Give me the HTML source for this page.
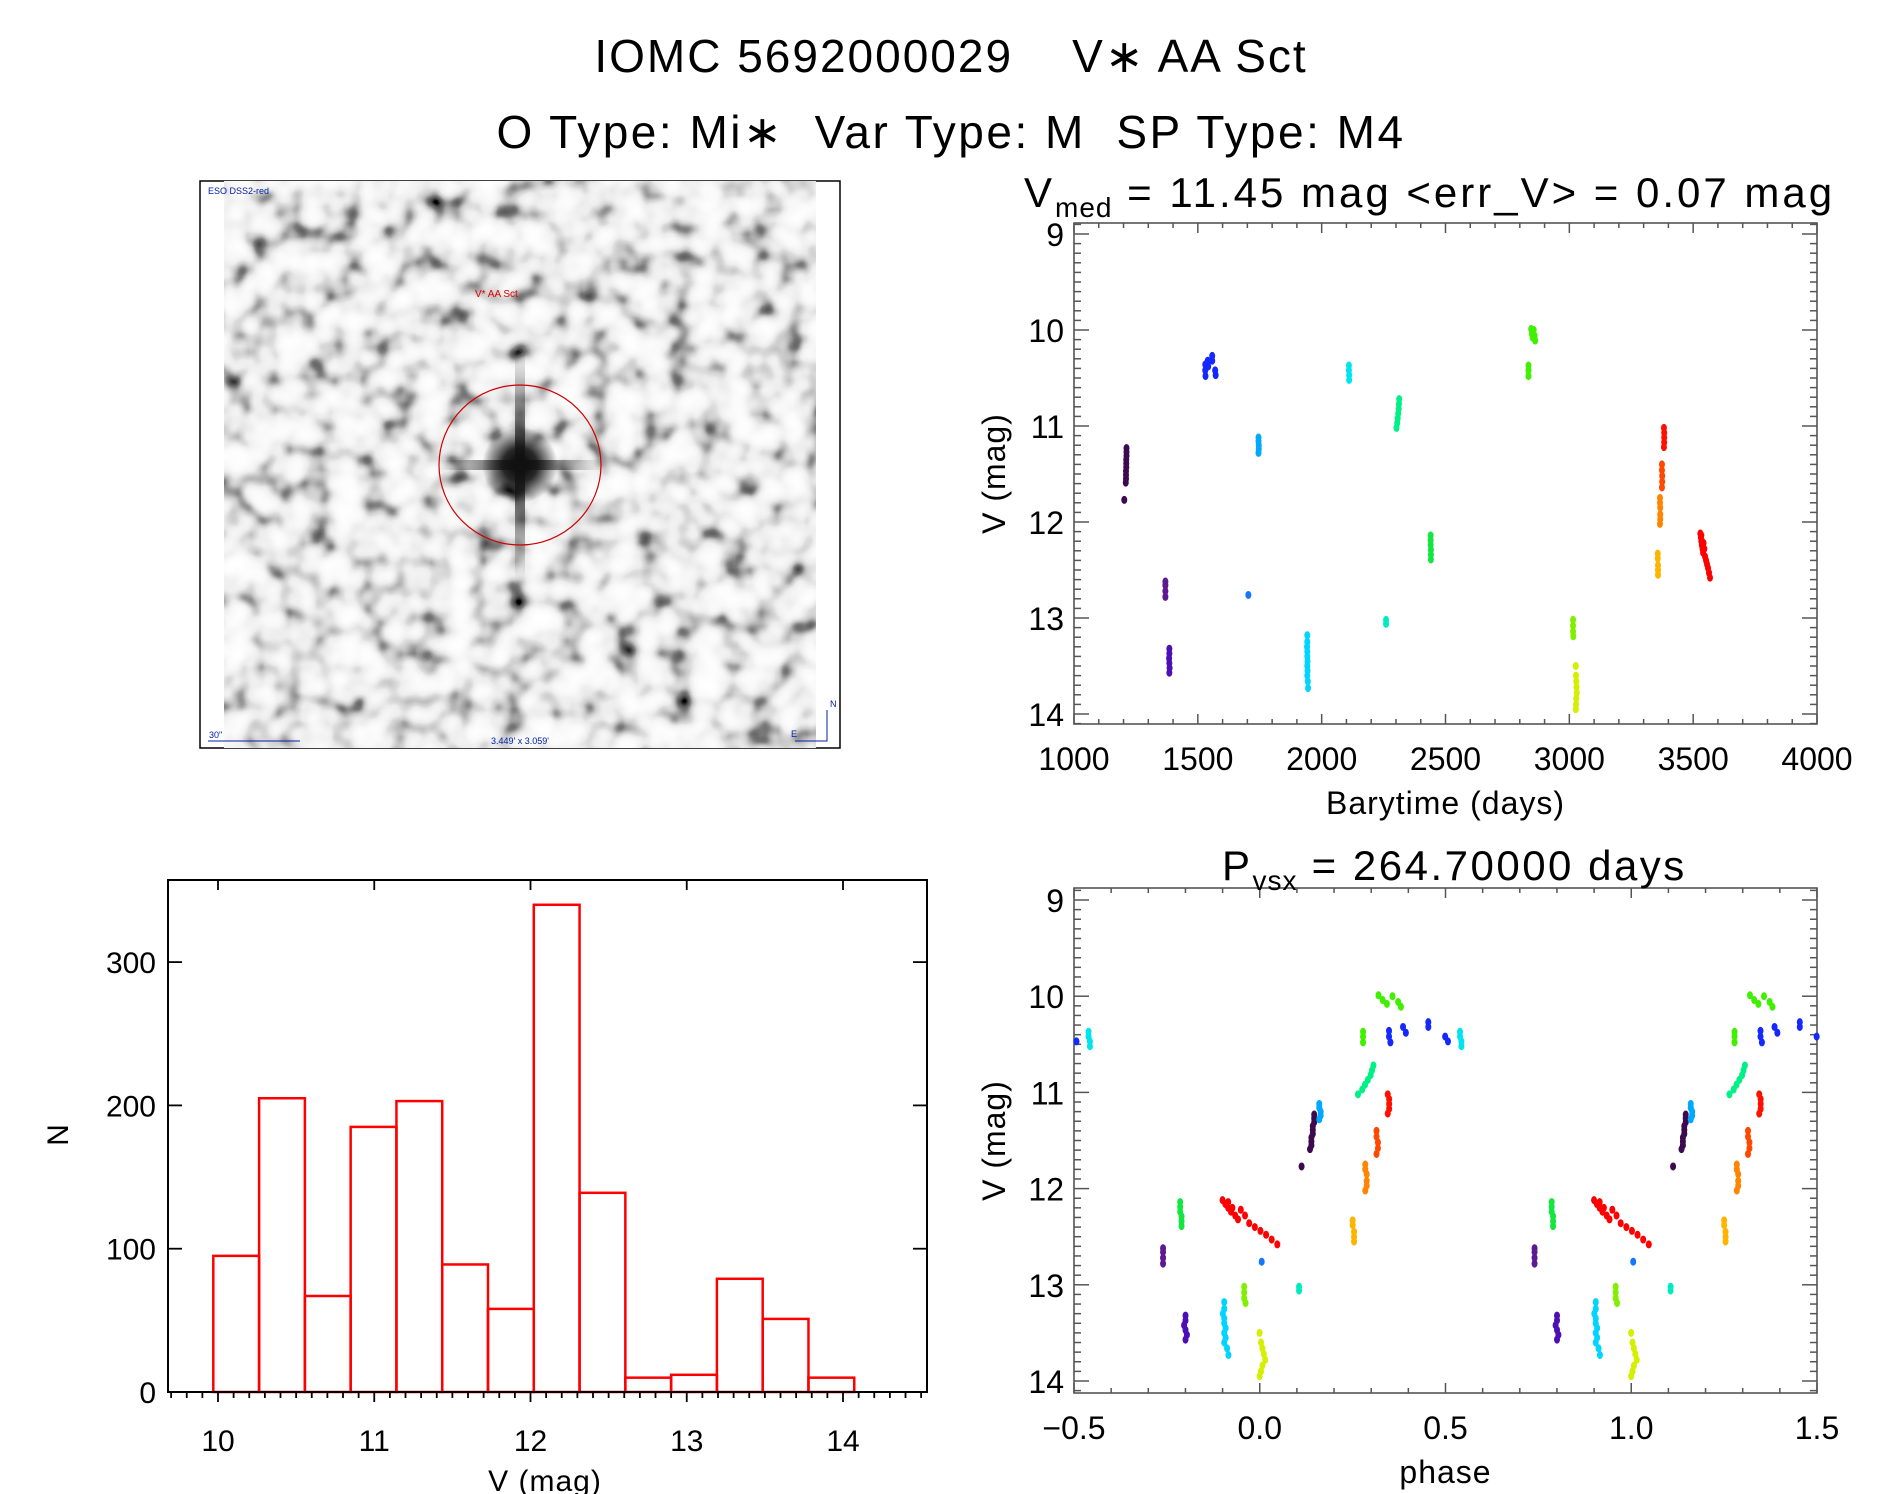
<!DOCTYPE html>
<html><head><meta charset="utf-8"><style>
html,body{margin:0;padding:0;background:#fff;}
svg{display:block;font-family:"Liberation Sans","DejaVu Sans",sans-serif;}
text{white-space:pre;}
</style></head><body>
<svg id="root" width="1889" height="1494" viewBox="0 0 1889 1494" xmlns="http://www.w3.org/2000/svg" xml:space="preserve">
<defs>
<filter id="skyNoise" x="0" y="0" width="100%" height="100%">
<feTurbulence type="fractalNoise" baseFrequency="0.036" numOctaves="2" seed="11"/>
<feColorMatrix type="matrix" values="1 0 0 0 0 1 0 0 0 0 1 0 0 0 0 0 0 0 0 1"/>
<feComponentTransfer>
<feFuncR type="table" tableValues="1 1 0.98 0.94 0.85 0.6 0.2 0 0"/>
<feFuncG type="table" tableValues="1 1 0.98 0.94 0.85 0.6 0.2 0 0"/>
<feFuncB type="table" tableValues="1 1 0.98 0.94 0.85 0.6 0.2 0 0"/>
<feFuncA type="linear" slope="0" intercept="1"/>
</feComponentTransfer>
</filter>
<radialGradient id="starGlow"><stop offset="0" stop-color="#000"/><stop offset="0.45" stop-color="#111" stop-opacity="0.9"/><stop offset="1" stop-color="#000" stop-opacity="0"/></radialGradient>
<linearGradient id="spikeV" x1="0" y1="0" x2="0" y2="1"><stop offset="0" stop-color="#111" stop-opacity="0"/><stop offset="0.5" stop-color="#111" stop-opacity="0.9"/><stop offset="1" stop-color="#111" stop-opacity="0"/></linearGradient>
<linearGradient id="spikeH" x1="0" y1="0" x2="1" y2="0"><stop offset="0" stop-color="#111" stop-opacity="0"/><stop offset="0.5" stop-color="#111" stop-opacity="0.9"/><stop offset="1" stop-color="#111" stop-opacity="0"/></linearGradient>
<clipPath id="imgClip"><rect x="224" y="181" width="592" height="567"/></clipPath>
</defs>

<text x="951" y="72" font-size="46" text-anchor="middle" letter-spacing="2">IOMC 5692000029    V∗ AA Sct</text>
<text x="951" y="148" font-size="46" text-anchor="middle" letter-spacing="2.5">O Type: Mi∗  Var Type: M  SP Type: M4</text>

<g>
<rect x="200" y="181" width="640" height="567" fill="#fff" stroke="#000" stroke-width="1.5"/>
<g clip-path="url(#imgClip)">
<rect x="224" y="181" width="592" height="567" filter="url(#skyNoise)"/>
<circle cx="520" cy="465" r="38" fill="url(#starGlow)"/>
<rect x="515" y="350" width="10" height="230" fill="url(#spikeV)"/>
<rect x="440" y="460" width="160" height="10" fill="url(#spikeH)"/>
</g>
<ellipse cx="520" cy="465" rx="81" ry="80" fill="none" stroke="#c00" stroke-width="1.2"/>
<text x="475" y="297" font-size="10" fill="#d00">V* AA Sct</text>
<text x="208" y="194" font-size="9" fill="#0020a0">ESO DSS2-red</text>
<line x1="208" y1="741" x2="300" y2="741" stroke="#0020a0"/>
<text x="209" y="738" font-size="9" fill="#0020a0">30"</text>
<text x="520" y="744" font-size="9" fill="#0020a0" text-anchor="middle">3.449' x 3.059'</text>
<path d="M795 741 L827 741 L827 710" fill="none" stroke="#0020a0"/>
<text x="830" y="707" font-size="9" fill="#0020a0">N</text>
<text x="791" y="737" font-size="9" fill="#0020a0">E</text>
</g>

<g id="lc"></g>
<g id="ph"></g>
<g id="hist"></g>
</svg>
<script>
// Histogram data
const binStart = 9.97;
const binWidth = 0.293;
const binCounts = [95, 205, 67, 185, 203, 89, 58, 340, 139, 10, 12, 79, 51, 10];
const histXTicks = [10, 11, 12, 13, 14];
const histYTicks = [0, 100, 200, 300];
// Light curve data (barytime days, V mag, colour)
const obsTime = [1212,1212,1212,1211,1211,1211,1210,1210,1210,1209,1203,
 1369,1369,1369,1369,
 1385,1385,1384,1385,1386,1385,
 1530,1530,1531,1540,1542,1558,1558,1570,1572,
 1704,
 1745,1745,1746,1746,1745,
 1942,1942,1941,1942,1942,1943,1942,1943,1942,1944,1945,
 2110,2110,2111,2111,
 2260,2260,
 2313,2312,2311,2309,2307,2305,2302,
 2440,2440,2440,2441,2441,2441,
 2835,2835,2835,2846,2849,2852,2856,2860,2862,
 3015,3015,3015,3016,
 3026,3027,3028,3029,3030,3028,3027,3026,
 3357,3357,3358,3358,3358,
 3366,3366,3367,3367,3367,3366,
 3374,3374,3375,3375,3374,
 3382,3383,3383,3383,3382,
 3529,3531,3533,3535,3538,3536,3540,3545,3548,3552,3556,3560,3564,3568,3533,3542];
const obsMag = [11.23,11.27,11.31,11.35,11.39,11.43,11.47,11.51,11.55,11.59,11.77,
 12.62,12.66,12.72,12.78,
 13.32,13.37,13.42,13.47,13.52,13.57,
 10.36,10.42,10.48,10.32,10.38,10.27,10.32,10.42,10.47,
 12.76,
 11.12,11.16,11.20,11.24,11.28,
 13.18,13.25,13.30,13.35,13.40,13.45,13.50,13.55,13.60,13.66,13.73,
 10.37,10.42,10.47,10.52,
 13.02,13.06,
 10.72,10.77,10.82,10.87,10.92,10.97,11.02,
 12.14,12.19,12.24,12.29,12.34,12.39,
 10.37,10.42,10.48,9.99,10.04,10.08,10.00,10.06,10.11,
 13.02,13.08,13.14,13.19,
 13.50,13.60,13.66,13.72,13.78,13.84,13.90,13.95,
 12.33,12.38,12.45,12.50,12.55,
 11.75,11.80,11.85,11.92,11.97,12.02,
 11.40,11.46,11.52,11.58,11.64,
 11.02,11.07,11.12,11.17,11.22,
 12.12,12.16,12.20,12.24,12.28,12.20,12.32,12.28,12.36,12.40,12.44,12.48,12.53,12.58,12.14,12.22];
const seasonColors = ['#3c0a4e','#5e1890','#4b0fb4','#1428ff','#1478ff','#00a8ff','#00d4ff','#00e4f0','#00ecc0','#00f088','#14e640','#40f000','#80f000','#d4f000','#ffb400','#ff8400','#ff4800','#ff1000','#ff0000'];
const seasonSizes = [11,4,6,9,1,5,11,4,2,7,6,9,4,8,5,6,5,5,16];
const period = 264.7;
const epoch = 3555.5;
const lcXTicks = [1000,1500,2000,2500,3000,3500,4000];
const magTicks = [9,10,11,12,13,14];
const phaseTicks = [-0.5,0.0,0.5,1.0,1.5];

const NS = 'http://www.w3.org/2000/svg';
function mk(parent, tag, attrs, text) {
  const e = document.createElementNS(NS, tag);
  for (const k in attrs) e.setAttribute(k, attrs[k]);
  if (text !== undefined) e.textContent = text;
  parent.appendChild(e);
  return e;
}
function lin(d0, d1, r0, r1) { return v => r0 + (v - d0) / (d1 - d0) * (r1 - r0); }
const obsColor = [];
seasonSizes.forEach((n, i) => { for (let j = 0; j < n; j++) obsColor.push(seasonColors[i]); });

function drawDot(g, x, y, col, name) {
  const c = mk(g, 'ellipse', {cx: x, cy: y, rx: 3, ry: 4, fill: col});
  
  
}

function magAxes(g, L, R, T, B, ys, xs, xTicks, xMinorStep, xMajorStep, xFmt, xTitle, yTitleX) {
  const ax = mk(g, 'rect', {x: L, y: T, width: R - L, height: B - T, fill: 'none', stroke: '#555', 'stroke-width': 1.6});
  
  
  for (let m = 8.9; m <= 14.15; m += 0.1) {
    const mr = Math.round(m * 10) / 10;
    const y = ys(mr);
    if (y < T || y > B) continue;
    const major = Math.abs(mr - Math.round(mr)) < 0.01;
    const len = major ? 15 : 7;
    mk(g, 'line', {x1: L, x2: L + len, y1: y, y2: y, stroke: '#555', 'stroke-width': 1.5});
    mk(g, 'line', {x1: R, x2: R - len, y1: y, y2: y, stroke: '#555', 'stroke-width': 1.5});
  }
  magTicks.forEach(m => {
    const t = mk(g, 'text', {x: L - 10, y: ys(m) + 12, 'font-size': 32, 'text-anchor': 'end'}, String(m));
    
    
  });
  const x0 = xTicks[0], x1 = xTicks[xTicks.length - 1];
  const nMinor = Math.round((x1 - x0) / xMinorStep);
  for (let i = 0; i <= nMinor; i++) {
    const v = x0 + i * xMinorStep;
    const x = xs(v);
    const major = i % Math.round(xMajorStep / xMinorStep) === 0;
    const len = major ? 10 : 5;
    mk(g, 'line', {x1: x, x2: x, y1: B, y2: B - len, stroke: '#555', 'stroke-width': 1.5});
    mk(g, 'line', {x1: x, x2: x, y1: T, y2: T + len, stroke: '#555', 'stroke-width': 1.5});
  }
  xTicks.forEach(v => {
    const t = mk(g, 'text', {x: xs(v), y: B + 46, 'font-size': 32, 'text-anchor': 'middle'}, xFmt(v));
    
    
  });
  const xt = mk(g, 'text', {x: (L + R) / 2, y: B + 90, 'font-size': 32, 'text-anchor': 'middle', 'letter-spacing': 1}, xTitle);
  
  
  const cy = (T + B) / 2;
  const yt = mk(g, 'text', {x: yTitleX, y: cy, 'font-size': 32, 'text-anchor': 'middle', 'letter-spacing': 1, transform: `rotate(-90 ${yTitleX} ${cy})`}, 'V (mag)');
  
  
}

// Light curve panel
(function () {
  const g = document.getElementById('lc');
  const L = 1074, R = 1817, T = 223, B = 724;
  const xs = lin(1000, 4000, L, R), ys = lin(9, 14, 234, 714);
  magAxes(g, L, R, T, B, ys, xs, lcXTicks, 100, 500, v => String(v), 'Barytime (days)', 1005);
  const title = mk(g, 'text', {x: 1024, y: 207, 'font-size': 42, 'letter-spacing': 3});
  
  
  mk(title, 'tspan', {}, 'V');
  mk(title, 'tspan', {dy: 10, 'font-size': 28, 'letter-spacing': 1}, 'med');
  mk(title, 'tspan', {dy: -10}, ' = 11.45 mag <err_V> = 0.07 mag');
  obsTime.forEach((t, i) => drawDot(g, xs(t), ys(obsMag[i]), obsColor[i], 'lc-point'));
})();

// Phase panel
(function () {
  const g = document.getElementById('ph');
  const L = 1074, R = 1817, T = 888, B = 1393;
  const xs = lin(-0.5, 1.5, L, R), ys = lin(9, 14, 900, 1381);
  magAxes(g, L, R, T, B, ys, xs, phaseTicks, 0.1, 0.5, v => v < 0 ? '\u2212' + Math.abs(v).toFixed(1) : v.toFixed(1), 'phase', 1005);
  const title = mk(g, 'text', {x: 1222, y: 880, 'font-size': 42, 'letter-spacing': 2.5});
  
  
  mk(title, 'tspan', {}, 'P');
  mk(title, 'tspan', {dy: 10, 'font-size': 28, 'letter-spacing': 1}, 'vsx');
  mk(title, 'tspan', {dy: -10}, ' = 264.70000 days');
  obsTime.forEach((t, i) => {
    let p = (t - epoch) / period;
    p = p - Math.floor(p);
    [p - 1, p, p + 1].forEach(q => {
      if (q < -0.5 || q > 1.5) return;
      drawDot(g, xs(q), ys(obsMag[i]), obsColor[i], 'phase-point');
    });
  });
})();

// Histogram panel
(function () {
  const g = document.getElementById('hist');
  const L = 168, R = 927, T = 880, B = 1392;
  const xs = lin(10, 14, 218, 843), ys = lin(0, 100, 1392, 1248.7);
  binCounts.forEach((n, i) => {
    const x0 = xs(binStart + i * binWidth), x1 = xs(binStart + (i + 1) * binWidth);
    const r = mk(g, 'rect', {x: x0, y: ys(n), width: x1 - x0, height: ys(0) - ys(n), fill: 'none', stroke: '#f00', 'stroke-width': 2.5});
    
    
  });
  const f = mk(g, 'path', {d: `M${L} ${T} H${R} V${B} H${L} Z`, fill: 'none', stroke: '#000', 'stroke-width': 2});
  
  
  for (let m = 9.7; m <= 14.55; m += 0.1) {
    const mr = Math.round(m * 10) / 10;
    const x = xs(mr);
    if (x < L || x > R) continue;
    const major = Math.abs(mr - Math.round(mr)) < 0.01;
    mk(g, 'line', {x1: x, x2: x, y1: B, y2: B + (major ? 10 : 6), stroke: '#000', 'stroke-width': 1.8});
    if (major) mk(g, 'line', {x1: x, x2: x, y1: T, y2: T + 10, stroke: '#000', 'stroke-width': 1.8});
  }
  histXTicks.forEach(v => {
    const t = mk(g, 'text', {x: xs(v), y: 1451, 'font-size': 30, 'text-anchor': 'middle'}, String(v));
    
    
  });
  histYTicks.forEach(v => {
    const y = ys(v);
    if (v > 0) {
      mk(g, 'line', {x1: L, x2: L + 14, y1: y, y2: y, stroke: '#000', 'stroke-width': 1.8});
      mk(g, 'line', {x1: R, x2: R - 14, y1: y, y2: y, stroke: '#000', 'stroke-width': 1.8});
    }
    const t = mk(g, 'text', {x: 156, y: y + 11, 'font-size': 30, 'text-anchor': 'end'}, String(v));
    
    
  });
  const xt = mk(g, 'text', {x: 545, y: 1491, 'font-size': 30, 'text-anchor': 'middle', 'letter-spacing': 1}, 'V (mag)');
  
  
  const yt = mk(g, 'text', {x: 68, y: 1135, 'font-size': 30, 'text-anchor': 'middle', transform: 'rotate(-90 68 1135)'}, 'N');
  
  
})();
</script>
</body></html>
